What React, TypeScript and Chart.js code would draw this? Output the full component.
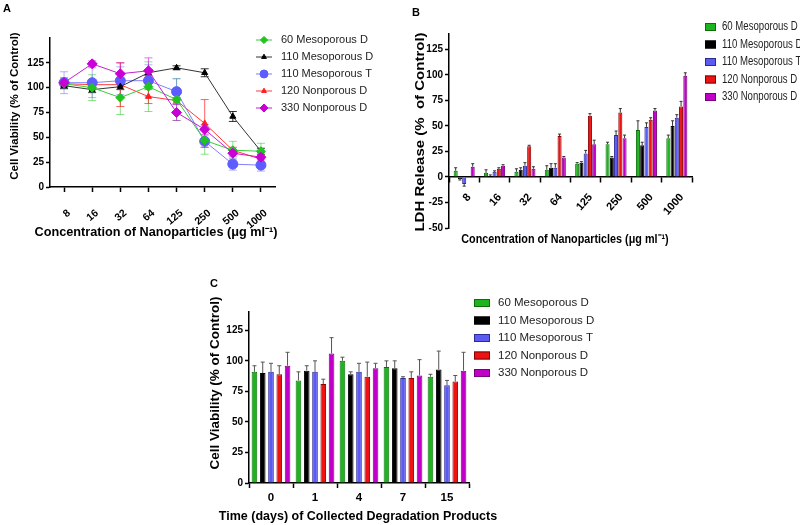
import React, { useEffect, useRef } from 'react';
import { Chart, registerables } from 'chart.js';
import { drawPoint } from 'chart.js/helpers';

Chart.register(...registerables);

// ---------- DATA ----------
const seriesNames = ['60 Mesoporous D', '110 Mesoporous D', '110 Mesoporous T', '120 Nonporous D', '330 Nonporous D'];
const concLabels = ['8', '16', '32', '64', '125', '250', '500', '1000'];
const dayLabels = ['0', '1', '4', '7', '15'];
const yTicksA = [0, 25, 50, 75, 100, 125];
const yTicksB = [-50, -25, 0, 25, 50, 75, 100, 125];

const titleConc = 'Concentration of Nanoparticles (\u03bcg ml\u207b\u00b9)';
const titleViab = 'Cell Viability (% of Control)';
const titleLdh = 'LDH Release (%  of Control)';
const titleTime = 'Time (days) of Collected Degradation Products';

// Panel A: cell viability (% of control) vs concentration
const viabA60MD = [104, 100, 90, 101, 88, 47, 37, 36];
const viabA110MD = [102, 98, 101, 115, 120, 115, 71, 36];
const viabA110MT = [105, 105, 107, 107, 96, 46, 23, 22];
const viabA120ND = [104, 103, 103, 91, 87, 64, 37, 28];
const viabA330ND = [105, 124, 114, 117, 75, 58, 34, 30];
const errA60MD = [5, 13, 17, 25, 21, 14, 9, 8];
const errA110MD = [3, 3, 3, 3, 2, 4, 5, 3];
const errA110MT = [11, 15, 14, 16, 13, 6, 6, 6];
const errA120ND = [3, 3, 22, 7, 3, 24, 3, 3];
const errA330ND = [5, 3, 11, 13, 8, 5, 3, 5];

// Panel B: LDH release (% of control) vs concentration
const ldh60MD = [6, 4, 5, 7, 13, 32, 46, 38];
const ldh110MD = [-2, 1, 7, 9, 14, 19, 31, 50];
const ldh110MT = [-7, 5, 11, 9, 23, 41, 49, 58];
const ldh120ND = [0, 8, 30, 40, 60, 63, 56, 69];
const ldh330ND = [10, 11, 8, 19, 32, 38, 65, 99];
const errLdh60MD = [3, 3, 3, 4, 1, 2, 9, 3];
const errLdh110MD = [1, 1, 2, 4, 1, 1, 3, 5];
const errLdh110MT = [2, 1, 3, 4, 3, 4, 4, 3];
const errLdh120ND = [0, 1, 1, 2, 2, 4, 2, 5];
const errLdh330ND = [3, 1, 2, 1, 4, 3, 2, 3];

// Panel C: cell viability vs time of collected degradation products
const viabC60MD = [91, 84, 100, 95, 87];
const viabC110MD = [90, 92, 89, 94, 93];
const viabC110MT = [91, 91, 91, 86, 80];
const viabC120ND = [89, 81, 87, 86, 83];
const viabC330ND = [96, 106, 94, 88, 92];
const errC60MD = [5, 7, 3, 5, 2];
const errC110MD = [9, 4, 2, 6, 15];
const errC110MT = [7, 9, 7, 1, 4];
const errC120ND = [7, 4, 12, 5, 5];
const errC330ND = [11, 13, 4, 13, 15];

// ---------- STYLE ----------
const FONT = '"Liberation Sans", Arial, sans-serif';

const markerColors = ['#1fc41f', '#000000', '#5c5cff', '#ff1c1c', '#c800d6'];
const lineColors = ['#3acc3a', '#333333', '#7f7fff', '#ff3a3a', '#c21fd0'];
const errColors = ['rgba(40,200,40,0.55)', 'rgba(0,0,0,0.8)', 'rgba(100,100,255,0.5)', 'rgba(255,30,30,0.7)', 'rgba(200,0,214,0.55)'];
const pointStyles = ['rectRot', 'triangle', 'circle', 'triangle', 'rectRot'];
const pointRadii = [4.5, 3.5, 5, 3.5, 5];

const barFill = ['#1db41d', '#000000', '#5b5bf2', '#ee1212', '#c000c8'];
const barEdge = ['#0b6e0b', '#000000', '#2a2a99', '#8a0000', '#7a007a'];

// ---------- PLUGINS ----------
const errorBars = {
  id: 'errorBars',
  beforeDatasetsDraw(chart: any, _a: any, opts: any) {
    if (opts && opts.behind) drawErrors(chart);
  },
  afterDatasetsDraw(chart: any, _a: any, opts: any) {
    if (!opts || !opts.behind) drawErrors(chart);
  },
};

function drawErrors(chart: any) {
  const ctx = chart.ctx;
  const yScale = chart.scales.y;
  chart.data.datasets.forEach((ds: any, di: number) => {
    const meta = chart.getDatasetMeta(di);
    if (!ds.errors || meta.hidden) return;
    ctx.save();
    ctx.strokeStyle = ds.errorColor;
    ctx.lineWidth = ds.errorWidth || 1;
    meta.data.forEach((el: any, i: number) => {
      const v = ds.data[i];
      const e = ds.errors[i];
      if (v == null || !e) return;
      const x = el.x;
      const dir = v < 0 ? -1 : 1;
      const yEnd = yScale.getPixelForValue(v + dir * e);
      const yStart = ds.errorBoth ? yScale.getPixelForValue(v - dir * e) : yScale.getPixelForValue(v);
      const cap = ds.errorCap || 2;
      ctx.beginPath();
      ctx.moveTo(x, yStart);
      ctx.lineTo(x, yEnd);
      ctx.moveTo(x - cap, yEnd);
      ctx.lineTo(x + cap, yEnd);
      if (ds.errorBoth) {
        ctx.moveTo(x - cap, yStart);
        ctx.lineTo(x + cap, yStart);
      }
      ctx.stroke();
    });
    ctx.restore();
  });
}

const customLegend = {
  id: 'customLegend',
  afterDraw(chart: any, _a: any, opts: any) {
    if (!opts || !opts.show) return;
    const ctx = chart.ctx;
    const sx = opts.scaleX || 1;
    ctx.save();
    ctx.font = `${opts.fontSize}px ${opts.family}`;
    ctx.textBaseline = 'middle';
    ctx.textAlign = 'left';
    chart.data.datasets.forEach((ds: any, i: number) => {
      const y = opts.y + i * opts.spacing;
      if (opts.kind === 'line') {
        ctx.strokeStyle = ds.borderColor;
        ctx.lineWidth = 1;
        ctx.beginPath();
        ctx.moveTo(opts.x, y);
        ctx.lineTo(opts.x + opts.lineLen, y);
        ctx.stroke();
        ctx.fillStyle = ds.pointBackgroundColor;
        ctx.strokeStyle = ds.pointBorderColor;
        drawPoint(ctx, { pointStyle: ds.pointStyle, radius: ds.pointRadius * 0.8, rotation: 0, borderWidth: 1 } as any, opts.x + opts.lineLen / 2, y);
      } else {
        ctx.fillStyle = ds.backgroundColor;
        ctx.fillRect(opts.x, y - opts.boxH / 2, opts.boxW, opts.boxH);
        ctx.strokeStyle = ds.borderColor;
        ctx.lineWidth = 1;
        ctx.strokeRect(opts.x + 0.5, y - opts.boxH / 2 + 0.5, opts.boxW - 1, opts.boxH - 1);
      }
      ctx.fillStyle = '#222';
      ctx.save();
      ctx.translate(opts.textX, y);
      ctx.scale(sx, 1);
      ctx.fillText(ds.label, 0, 0);
      ctx.restore();
    });
    ctx.restore();
  },
};

// axis titles drawn as canvas text, so they can be wider than the plot area
const axisTitles = {
  id: 'axisTitles',
  afterDraw(chart: any, _a: any, opts: any) {
    if (!opts || !opts.items) return;
    const ctx = chart.ctx;
    opts.items.forEach((it: any) => {
      ctx.save();
      ctx.font = `bold ${it.size}px ${FONT}`;
      ctx.fillStyle = '#000';
      ctx.textAlign = 'center';
      ctx.textBaseline = 'middle';
      ctx.translate(it.x, it.y);
      if (it.vertical) ctx.rotate(-Math.PI / 2);
      ctx.scale(it.scaleX || 1, it.scaleY || 1);
      ctx.fillText(it.text, 0, 0);
      ctx.restore();
    });
  },
};

// ---------- HELPERS ----------
const boldFont = (size: number) => ({ family: FONT, size, weight: 'bold' as const });

function yAxis(min: number, max: number, keep: number[], width: number) {
  return {
    min,
    max,
    ticks: { stepSize: 25, color: '#000', font: boldFont(10), padding: 2 },
    afterBuildTicks: (s: any) => {
      s.ticks = keep.map((v) => ({ value: v }));
    },
    afterFit: (s: any) => {
      s.width = width;
    },
    grid: { display: true, drawOnChartArea: false, drawTicks: true, tickLength: 4, tickWidth: 1.5, tickColor: '#000' },
    border: { display: true, color: '#000', width: 1.5 },
    title: { display: false },
  };
}

// ---------- CONFIGS ----------
function configA(): any {
  const dataA = [viabA60MD, viabA110MD, viabA110MT, viabA120ND, viabA330ND];
  const errA = [errA60MD, errA110MD, errA110MT, errA120ND, errA330ND];
  return {
    type: 'line',
    data: {
      labels: concLabels,
      datasets: seriesNames.map((name, i) => ({
        label: name,
        data: dataA[i],
        errors: errA[i],
        errorBoth: true,
        errorCap: 4,
        errorColor: errColors[i],
        borderColor: lineColors[i],
        backgroundColor: markerColors[i],
        pointBackgroundColor: markerColors[i],
        pointBorderColor: markerColors[i],
        pointStyle: pointStyles[i],
        pointRadius: pointRadii[i],
        borderWidth: 1,
        tension: 0,
        order: i === 4 ? -1 : i,
      })),
    },
    options: {
      responsive: false,
      animation: false,
      layout: { padding: { left: 4, top: 38, right: 125, bottom: 16 } },
      plugins: {
        legend: { display: false },
        tooltip: { enabled: false },
        errorBars: { behind: true },
        customLegend: { show: true, kind: 'line', x: 256, lineLen: 16, textX: 281, y: 40, spacing: 17, fontSize: 11, family: FONT },
        axisTitles: {
          items: [
            { text: titleConc, x: 156, y: 232, size: 12.7 },
            { text: titleViab, x: 15, y: 106, size: 11.5, vertical: true },
          ],
        },
      },
      scales: {
        x: {
          offset: true,
          grid: { display: true, drawOnChartArea: false, drawTicks: true, tickLength: 5, tickWidth: 1.5, tickColor: '#000' },
          border: { display: true, color: '#000', width: 1.5 },
          ticks: { color: '#000', font: boldFont(10.5), minRotation: 40, maxRotation: 40, autoSkip: false, padding: 15, labelOffset: 5 },
          title: { display: false },
          afterFit: (s: any) => {
            s.height = 57;
          },
        },
        y: yAxis(0, 150, yTicksA, 46),
      },
    },
    plugins: [errorBars, customLegend, axisTitles],
  };
}

function configB(): any {
  const dataB = [ldh60MD, ldh110MD, ldh110MT, ldh120ND, ldh330ND];
  const errB = [errLdh60MD, errLdh110MD, errLdh110MT, errLdh120ND, errLdh330ND];
  return {
    type: 'bar',
    data: {
      labels: concLabels,
      datasets: seriesNames.map((name, i) => ({
        label: name,
        data: dataB[i],
        errors: errB[i],
        errorCap: 1.5,
        errorColor: '#333',
        backgroundColor: barFill[i],
        borderColor: barEdge[i],
        borderWidth: 1,
        categoryPercentage: 0.7,
        barPercentage: 0.95,
      })),
    },
    options: {
      responsive: false,
      animation: false,
      layout: { padding: { left: 9, top: 34, right: 108, bottom: 32 } },
      plugins: {
        legend: { display: false },
        tooltip: { enabled: false },
        customLegend: { show: true, kind: 'box', x: 305, boxW: 11, boxH: 8, textX: 322, y: 27, spacing: 17.5, fontSize: 12, family: FONT, scaleX: 0.8 },
        axisTitles: {
          items: [
            { text: titleConc, x: 165, y: 239, size: 13.5, scaleX: 0.8 },
            { text: titleLdh, x: 21, y: 132, size: 15, vertical: true, scaleY: 0.8 },
          ],
        },
      },
      scales: {
        x: {
          position: { y: 0 },
          grid: { display: true, drawOnChartArea: false, drawTicks: true, tickLength: 5, tickWidth: 1.5, tickColor: '#000' },
          border: { display: true, color: '#000', width: 1.5 },
          ticks: { color: '#000', font: boldFont(11), minRotation: 48, maxRotation: 48, autoSkip: false, padding: 9, labelOffset: 5 },
          title: { display: false },
        },
        y: yAxis(-50, 140, yTicksB, 40),
      },
    },
    plugins: [errorBars, customLegend, axisTitles],
  };
}

function configC(): any {
  const dataC = [viabC60MD, viabC110MD, viabC110MT, viabC120ND, viabC330ND];
  const errC = [errC60MD, errC110MD, errC110MT, errC120ND, errC330ND];
  return {
    type: 'bar',
    data: {
      labels: dayLabels,
      datasets: seriesNames.map((name, i) => ({
        label: name,
        data: dataC[i],
        errors: errC[i],
        errorCap: 2,
        errorColor: '#555',
        backgroundColor: barFill[i],
        borderColor: barEdge[i],
        borderWidth: 1,
        categoryPercentage: 0.94,
        barPercentage: 0.68,
      })),
    },
    options: {
      responsive: false,
      animation: false,
      layout: { padding: { left: 3, top: 42, right: 131, bottom: 0 } },
      plugins: {
        legend: { display: false },
        tooltip: { enabled: false },
        customLegend: { show: true, kind: 'box', x: 274, boxW: 16, boxH: 8, textX: 298, y: 33, spacing: 17.5, fontSize: 11.5, family: FONT },
        axisTitles: {
          items: [
            { text: titleTime, x: 158, y: 247, size: 12.5 },
            { text: titleViab, x: 15, y: 113, size: 13.5, vertical: true },
          ],
        },
      },
      scales: {
        x: {
          grid: { display: true, drawOnChartArea: false, drawTicks: true, tickLength: 5, tickWidth: 1.5, tickColor: '#000' },
          border: { display: true, color: '#000', width: 1.5 },
          ticks: { color: '#000', font: boldFont(11.5), minRotation: 0, maxRotation: 0, autoSkip: false, padding: 3 },
          title: { display: false },
          afterFit: (s: any) => {
            s.height = 42;
          },
        },
        y: yAxis(0, 140, yTicksA, 46),
      },
    },
    plugins: [errorBars, customLegend, axisTitles],
  };
}

// ---------- COMPONENTS ----------
function ChartBox(props: { left: number; top: number; width: number; height: number; make: () => any }) {
  const ref = useRef<HTMLCanvasElement>(null);
  useEffect(() => {
    const chart = new Chart(ref.current as HTMLCanvasElement, props.make());
    return () => chart.destroy();
  }, []);
  return (
    <canvas
      ref={ref}
      width={props.width}
      height={props.height}
      style={{ position: 'absolute', left: props.left, top: props.top, width: props.width, height: props.height }}
    />
  );
}

const letterStyle = (left: number, top: number): React.CSSProperties => ({
  position: 'absolute',
  left,
  top,
  fontFamily: FONT,
  fontWeight: 'bold',
  fontSize: 11,
  lineHeight: '11px',
  color: '#000',
});

export default function App() {
  return (
    <div style={{ position: 'absolute', left: 0, top: 0, width: 800, height: 525, background: '#fff', overflow: 'hidden' }}>
      <ChartBox left={0} top={0} width={400} height={260} make={configA} />
      <ChartBox left={400} top={0} width={400} height={260} make={configB} />
      <ChartBox left={200} top={270} width={400} height={255} make={configC} />
      <div style={letterStyle(3, 3)}>A</div>
      <div style={letterStyle(412, 7)}>B</div>
      <div style={letterStyle(210, 278)}>C</div>
    </div>
  );
}
